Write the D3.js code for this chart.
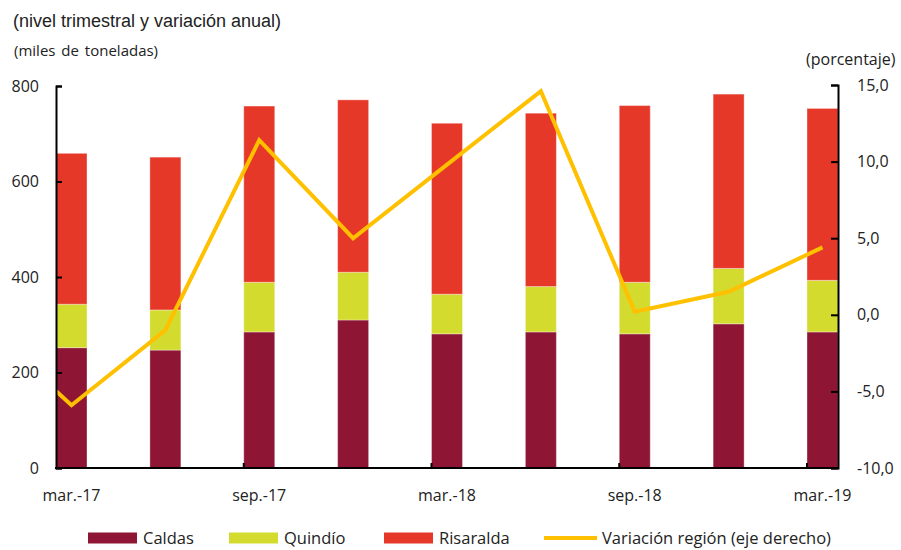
<!DOCTYPE html>
<html>
<head>
<meta charset="utf-8">
<script src="https://cdn.jsdelivr.net/npm/d3@7"></script>
<style>
  body { margin: 0; background: #fff; }
  text { font-family: "Open Sans", Lato, sans-serif; fill: #222; }
</style>
</head>
<body>
<div id="chart"></div>
<script>
// quarterly data, thousands of tonnes
var categories = ["mar.-17", "jun.-17", "sep.-17", "dic.-17", "mar.-18", "jun.-18", "sep.-18", "dic.-18", "mar.-19"];
var caldas    = [252, 247, 285, 310, 281, 285, 281, 302, 285];
var quindio   = [91, 84, 104, 100, 83, 95, 108, 116, 108];
var risaralda = [316, 320, 369, 361, 358, 363, 370, 365, 360];
// annual variation (%), first value is dic.-16 (falls outside the plot, only its segment shows)
var variacionPrev = -0.3;
var variacion = [-5.9, -1.0, 11.4, 5.0, 9.8, 14.6, 0.2, 1.5, 4.4];
var leftTicks = [0, 200, 400, 600, 800];
var rightTicks = [-10, -5, 0, 5, 10, 15];

var width = 901, height = 550;
var plotL = 56, plotR = 838, plotT = 86, plotB = 468;
var barW = 31;

var colors = { caldas: "#8E1634", quindio: "#D4DB2F", risaralda: "#E63828", line: "#FFC000" };

var svg = d3.select("#chart").append("svg")
  .attr("width", width)
  .attr("height", height);

// bar centres: first bar sits on the left axis, last bar on the right axis
var x = d3.scaleLinear().domain([0, categories.length - 1]).range([plotL + barW / 2, plotR - barW / 2]);
var y = d3.scaleLinear().domain([0, 800]).range([plotB, plotT]);
var y2 = d3.scaleLinear().domain([-10, 15]).range([plotB, plotT - 1]);

var comma = d3.formatLocale({ decimal: ",", thousands: ".", grouping: [3], currency: ["$", ""], minus: "-" });

// stacked bars
var rows = categories.map(function(c, i) {
  return { cat: c, i: i, caldas: caldas[i], quindio: quindio[i], risaralda: risaralda[i] };
});
var stack = d3.stack().keys(["caldas", "quindio", "risaralda"]);
var series = stack(rows);

svg.append("g")
  .selectAll("g")
  .data(series)
  .enter().append("g")
  .attr("fill", function(d) { return colors[d.key]; })
  .selectAll("rect")
  .data(function(d) { return d; })
  .enter().append("rect")
  .attr("x", function(d) { return x(d.data.i) - barW / 2; })
  .attr("y", function(d) { return y(d[1]); })
  .attr("width", barW)
  .attr("height", function(d) { return y(d[0]) - y(d[1]); })
  .attr("stroke", "#fff")
  .attr("stroke-opacity", 0.35)
  .attr("stroke-width", 1);

// line on the right axis, clipped to the plot area
svg.append("clipPath").attr("id", "plot")
  .append("rect")
  .attr("x", plotL).attr("y", 0)
  .attr("width", plotR - plotL).attr("height", height);

var linePts = [[-1, variacionPrev]].concat(variacion.map(function(v, i) { return [i, v]; }));
svg.append("path")
  .datum(linePts)
  .attr("clip-path", "url(#plot)")
  .attr("fill", "none")
  .attr("stroke", colors.line)
  .attr("stroke-width", 4)
  .attr("stroke-linejoin", "miter")
  .attr("d", d3.line()
    .x(function(d) { return x(d[0]); })
    .y(function(d) { return y2(d[1]); }));

// left axis
var gl = svg.append("g")
  .attr("transform", "translate(" + plotL + ",0)")
  .call(d3.axisLeft(y).tickValues(leftTicks).tickSize(-6).tickPadding(17).tickFormat(d3.format("d")));
// right axis
var gr = svg.append("g")
  .attr("transform", "translate(" + plotR + ",0)")
  .call(d3.axisRight(y2).tickValues(rightTicks).tickSize(-7).tickPadding(19).tickFormat(comma.format(".1f")));

[gl, gr].forEach(function(g) {
  g.select(".domain").attr("stroke", "#000").attr("stroke-width", 2);
  g.selectAll(".tick line").attr("stroke", "#000").attr("stroke-width", 2);
  g.selectAll(".tick text").style("font-family", "'Open Sans', sans-serif").style("font-size", "16px").attr("fill", "#222");
});

// bottom axis
svg.append("line")
  .attr("x1", plotL - 1).attr("x2", plotR + 1)
  .attr("y1", plotB).attr("y2", plotB)
  .attr("stroke", "#000").attr("stroke-width", 2);

svg.append("g").selectAll("line")
  .data(d3.range(2, categories.length, 2))
  .enter().append("line")
  .attr("x1", function(i) { return x(i) - barW / 2; })
  .attr("x2", function(i) { return x(i) - barW / 2; })
  .attr("y1", plotB).attr("y2", plotB - 5)
  .attr("stroke", "#000").attr("stroke-width", 2);

svg.append("g").selectAll("text")
  .data(rows.filter(function(d) { return d.i % 2 === 0; }))
  .enter().append("text")
  .attr("x", function(d) { return x(d.i); })
  .attr("y", 501)
  .attr("text-anchor", "middle")
  .style("font-size", "16px")
  .text(function(d) { return d.cat; });

// titles
svg.append("text")
  .attr("x", 13).attr("y", 27)
  .style("font-family", "'Liberation Sans', Arial, sans-serif")
  .style("font-size", "18px")
  .attr("fill", "#111")
  .text("(nivel trimestral y variación anual)");

svg.append("text")
  .attr("x", 14).attr("y", 56)
  .style("font-size", "15px")
  .style("word-spacing", "2px")
  .text("(miles de toneladas)");

svg.append("text")
  .attr("x", 806).attr("y", 65)
  .style("font-size", "16px")
  .text("(porcentaje)");

// legend
var legendItems = [
  { label: "Caldas", color: colors.caldas, x: 88, type: "rect" },
  { label: "Quindío", color: colors.quindio, x: 229, type: "rect" },
  { label: "Risaralda", color: colors.risaralda, x: 384, type: "rect" },
  { label: "Variación región (eje derecho)", color: colors.line, x: 544, type: "line" }
];

var lg = svg.append("g").selectAll("g")
  .data(legendItems)
  .enter().append("g")
  .attr("transform", function(d) { return "translate(" + d.x + ",538)"; });

lg.filter(function(d) { return d.type === "rect"; })
  .append("rect")
  .attr("x", 0).attr("y", -5.5)
  .attr("width", 49).attr("height", 11)
  .attr("fill", function(d) { return d.color; });

lg.filter(function(d) { return d.type === "line"; })
  .append("line")
  .attr("x1", 0).attr("x2", 53)
  .attr("y1", 0).attr("y2", 0)
  .attr("stroke", function(d) { return d.color; })
  .attr("stroke-width", 4);

lg.append("text")
  .attr("x", function(d) { return d.type === "line" ? 58 : 55; })
  .attr("y", 6)
  .style("font-size", "16.5px")
  .text(function(d) { return d.label; });
</script>
</body>
</html>
